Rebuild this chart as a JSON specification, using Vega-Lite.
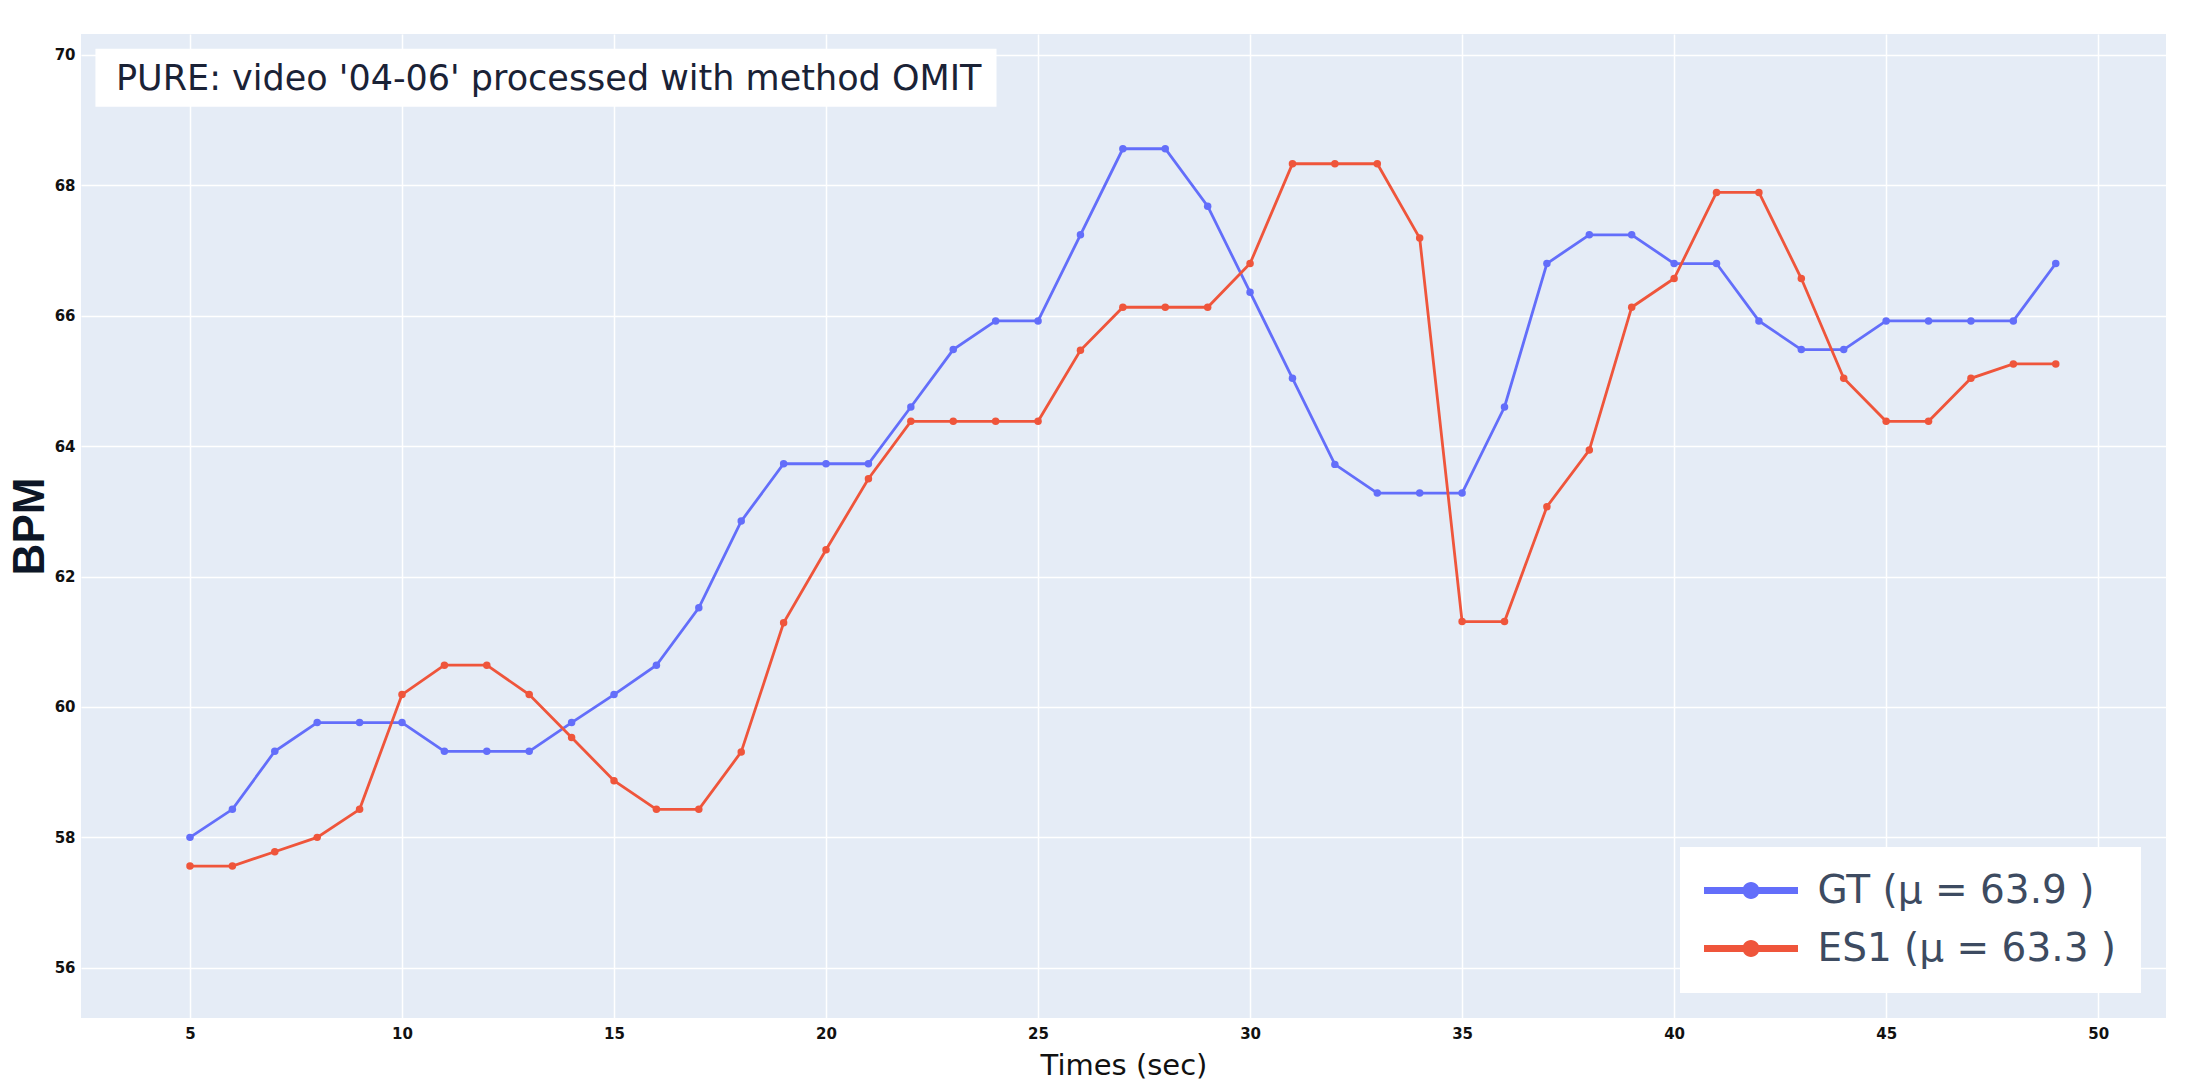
{
  "$schema": "https://vega.github.io/schema/vega-lite/v6.json",
  "width": 2085,
  "height": 984,
  "autosize": {"type": "none"},
  "padding": {"left": 81, "top": 34, "right": 45, "bottom": 72},
  "background": "white",
  "config": {
    "view": {"fill": "#E5ECF6", "stroke": null},
    "axis": {
      "domain": false,
      "ticks": false,
      "gridColor": "white",
      "gridWidth": 1.5,
      "labelFont": "DejaVu Sans",
      "labelFontWeight": "bold",
      "labelFontSize": 15,
      "labelColor": "#111111"
    }
  },
  "datasets": {
    "hr": [
      {"t": 5, "bpm": 58.0, "series": "GT (μ = 63.9 )"},
      {"t": 6, "bpm": 58.43, "series": "GT (μ = 63.9 )"},
      {"t": 7, "bpm": 59.32, "series": "GT (μ = 63.9 )"},
      {"t": 8, "bpm": 59.76, "series": "GT (μ = 63.9 )"},
      {"t": 9, "bpm": 59.76, "series": "GT (μ = 63.9 )"},
      {"t": 10, "bpm": 59.76, "series": "GT (μ = 63.9 )"},
      {"t": 11, "bpm": 59.32, "series": "GT (μ = 63.9 )"},
      {"t": 12, "bpm": 59.32, "series": "GT (μ = 63.9 )"},
      {"t": 13, "bpm": 59.32, "series": "GT (μ = 63.9 )"},
      {"t": 14, "bpm": 59.76, "series": "GT (μ = 63.9 )"},
      {"t": 15, "bpm": 60.19, "series": "GT (μ = 63.9 )"},
      {"t": 16, "bpm": 60.64, "series": "GT (μ = 63.9 )"},
      {"t": 17, "bpm": 61.52, "series": "GT (μ = 63.9 )"},
      {"t": 18, "bpm": 62.85, "series": "GT (μ = 63.9 )"},
      {"t": 19, "bpm": 63.73, "series": "GT (μ = 63.9 )"},
      {"t": 20, "bpm": 63.73, "series": "GT (μ = 63.9 )"},
      {"t": 21, "bpm": 63.73, "series": "GT (μ = 63.9 )"},
      {"t": 22, "bpm": 64.6, "series": "GT (μ = 63.9 )"},
      {"t": 23, "bpm": 65.48, "series": "GT (μ = 63.9 )"},
      {"t": 24, "bpm": 65.92, "series": "GT (μ = 63.9 )"},
      {"t": 25, "bpm": 65.92, "series": "GT (μ = 63.9 )"},
      {"t": 26, "bpm": 67.24, "series": "GT (μ = 63.9 )"},
      {"t": 27, "bpm": 68.56, "series": "GT (μ = 63.9 )"},
      {"t": 28, "bpm": 68.56, "series": "GT (μ = 63.9 )"},
      {"t": 29, "bpm": 67.68, "series": "GT (μ = 63.9 )"},
      {"t": 30, "bpm": 66.36, "series": "GT (μ = 63.9 )"},
      {"t": 31, "bpm": 65.04, "series": "GT (μ = 63.9 )"},
      {"t": 32, "bpm": 63.72, "series": "GT (μ = 63.9 )"},
      {"t": 33, "bpm": 63.28, "series": "GT (μ = 63.9 )"},
      {"t": 34, "bpm": 63.28, "series": "GT (μ = 63.9 )"},
      {"t": 35, "bpm": 63.28, "series": "GT (μ = 63.9 )"},
      {"t": 36, "bpm": 64.6, "series": "GT (μ = 63.9 )"},
      {"t": 37, "bpm": 66.8, "series": "GT (μ = 63.9 )"},
      {"t": 38, "bpm": 67.24, "series": "GT (μ = 63.9 )"},
      {"t": 39, "bpm": 67.24, "series": "GT (μ = 63.9 )"},
      {"t": 40, "bpm": 66.8, "series": "GT (μ = 63.9 )"},
      {"t": 41, "bpm": 66.8, "series": "GT (μ = 63.9 )"},
      {"t": 42, "bpm": 65.92, "series": "GT (μ = 63.9 )"},
      {"t": 43, "bpm": 65.48, "series": "GT (μ = 63.9 )"},
      {"t": 44, "bpm": 65.48, "series": "GT (μ = 63.9 )"},
      {"t": 45, "bpm": 65.92, "series": "GT (μ = 63.9 )"},
      {"t": 46, "bpm": 65.92, "series": "GT (μ = 63.9 )"},
      {"t": 47, "bpm": 65.92, "series": "GT (μ = 63.9 )"},
      {"t": 48, "bpm": 65.92, "series": "GT (μ = 63.9 )"},
      {"t": 49, "bpm": 66.8, "series": "GT (μ = 63.9 )"},
      {"t": 5, "bpm": 57.56, "series": "ES1 (μ = 63.3 )"},
      {"t": 6, "bpm": 57.56, "series": "ES1 (μ = 63.3 )"},
      {"t": 7, "bpm": 57.78, "series": "ES1 (μ = 63.3 )"},
      {"t": 8, "bpm": 58.0, "series": "ES1 (μ = 63.3 )"},
      {"t": 9, "bpm": 58.43, "series": "ES1 (μ = 63.3 )"},
      {"t": 10, "bpm": 60.19, "series": "ES1 (μ = 63.3 )"},
      {"t": 11, "bpm": 60.64, "series": "ES1 (μ = 63.3 )"},
      {"t": 12, "bpm": 60.64, "series": "ES1 (μ = 63.3 )"},
      {"t": 13, "bpm": 60.19, "series": "ES1 (μ = 63.3 )"},
      {"t": 14, "bpm": 59.53, "series": "ES1 (μ = 63.3 )"},
      {"t": 15, "bpm": 58.87, "series": "ES1 (μ = 63.3 )"},
      {"t": 16, "bpm": 58.43, "series": "ES1 (μ = 63.3 )"},
      {"t": 17, "bpm": 58.43, "series": "ES1 (μ = 63.3 )"},
      {"t": 18, "bpm": 59.31, "series": "ES1 (μ = 63.3 )"},
      {"t": 19, "bpm": 61.29, "series": "ES1 (μ = 63.3 )"},
      {"t": 20, "bpm": 62.41, "series": "ES1 (μ = 63.3 )"},
      {"t": 21, "bpm": 63.5, "series": "ES1 (μ = 63.3 )"},
      {"t": 22, "bpm": 64.38, "series": "ES1 (μ = 63.3 )"},
      {"t": 23, "bpm": 64.38, "series": "ES1 (μ = 63.3 )"},
      {"t": 24, "bpm": 64.38, "series": "ES1 (μ = 63.3 )"},
      {"t": 25, "bpm": 64.38, "series": "ES1 (μ = 63.3 )"},
      {"t": 26, "bpm": 65.47, "series": "ES1 (μ = 63.3 )"},
      {"t": 27, "bpm": 66.13, "series": "ES1 (μ = 63.3 )"},
      {"t": 28, "bpm": 66.13, "series": "ES1 (μ = 63.3 )"},
      {"t": 29, "bpm": 66.13, "series": "ES1 (μ = 63.3 )"},
      {"t": 30, "bpm": 66.8, "series": "ES1 (μ = 63.3 )"},
      {"t": 31, "bpm": 68.33, "series": "ES1 (μ = 63.3 )"},
      {"t": 32, "bpm": 68.33, "series": "ES1 (μ = 63.3 )"},
      {"t": 33, "bpm": 68.33, "series": "ES1 (μ = 63.3 )"},
      {"t": 34, "bpm": 67.19, "series": "ES1 (μ = 63.3 )"},
      {"t": 35, "bpm": 61.31, "series": "ES1 (μ = 63.3 )"},
      {"t": 36, "bpm": 61.31, "series": "ES1 (μ = 63.3 )"},
      {"t": 37, "bpm": 63.07, "series": "ES1 (μ = 63.3 )"},
      {"t": 38, "bpm": 63.94, "series": "ES1 (μ = 63.3 )"},
      {"t": 39, "bpm": 66.13, "series": "ES1 (μ = 63.3 )"},
      {"t": 40, "bpm": 66.57, "series": "ES1 (μ = 63.3 )"},
      {"t": 41, "bpm": 67.89, "series": "ES1 (μ = 63.3 )"},
      {"t": 42, "bpm": 67.89, "series": "ES1 (μ = 63.3 )"},
      {"t": 43, "bpm": 66.57, "series": "ES1 (μ = 63.3 )"},
      {"t": 44, "bpm": 65.04, "series": "ES1 (μ = 63.3 )"},
      {"t": 45, "bpm": 64.38, "series": "ES1 (μ = 63.3 )"},
      {"t": 46, "bpm": 64.38, "series": "ES1 (μ = 63.3 )"},
      {"t": 47, "bpm": 65.04, "series": "ES1 (μ = 63.3 )"},
      {"t": 48, "bpm": 65.26, "series": "ES1 (μ = 63.3 )"},
      {"t": 49, "bpm": 65.26, "series": "ES1 (μ = 63.3 )"}
    ]
  },
  "layer": [
    {
      "data": {"name": "hr"},
      "mark": {"type": "line", "strokeWidth": 2.8, "point": {"filled": true, "size": 56, "opacity": 1}},
      "encoding": {
        "x": {
          "field": "t", "type": "quantitative",
          "scale": {"domain": [2.43, 51.6], "nice": false, "zero": false},
          "axis": {
            "values": [5, 10, 15, 20, 25, 30, 35, 40, 45, 50],
            "format": "d",
            "title": "Times (sec)",
            "titleFont": "DejaVu Sans",
            "titleFontSize": 29,
            "titleFontWeight": "normal",
            "titleColor": "#111111",
            "titlePadding": 10,
            "labelPadding": 8
          }
        },
        "y": {
          "field": "bpm", "type": "quantitative",
          "scale": {"domain": [55.23, 70.32], "nice": false, "zero": false},
          "axis": {
            "values": [56, 58, 60, 62, 64, 66, 68, 70],
            "format": "d",
            "title": "BPM",
            "titleFont": "Liberation Sans",
            "titleFontSize": 44,
            "titleFontWeight": "bold",
            "titleColor": "#0d1626",
            "titlePadding": 2,
            "labelPadding": 6
          }
        },
        "color": {
          "field": "series", "type": "nominal",
          "scale": {"domain": ["GT (μ = 63.9 )", "ES1 (μ = 63.3 )"], "range": ["#636EFA", "#EF553B"]},
          "legend": {
            "title": null,
            "orient": "bottom-right",
            "offset": 25,
            "fillColor": "white",
            "padding": 24,
            "rowPadding": 18,
            "labelFont": "DejaVu Sans",
            "labelFontSize": 39,
            "labelFontWeight": "normal",
            "labelColor": "#3d4b61",
            "labelLimit": 500,
            "symbolType": "M-2.41,-0.18H2.41V0.18H-2.41Z M0.436,0 A0.436,0.436 0 1 1 -0.436,0 A0.436,0.436 0 1 1 0.436,0 Z",
            "symbolSize": 1521,
            "symbolStrokeWidth": 0,
            "symbolOffset": 27.5,
            "labelOffset": 47,
            "encode": {
              "symbols": {"update": {"fill": {"scale": "color", "field": "value"}, "fillOpacity": {"value": 1}, "opacity": {"value": 1}, "strokeWidth": {"value": 0}}}
            }
          }
        }
      }
    },
    {
      "data": {"values": [{}]},
      "mark": {"type": "rect", "fill": "white", "stroke": null},
      "encoding": {
        "x": {"datum": 2.77, "type": "quantitative"},
        "x2": {"datum": 24.02},
        "y": {"datum": 70.094, "type": "quantitative"},
        "y2": {"datum": 69.204}
      }
    },
    {
      "data": {"values": [{}]},
      "mark": {"type": "text", "text": "PURE: video '04-06' processed with method OMIT", "font": "DejaVu Sans", "fontSize": 35, "align": "left", "baseline": "alphabetic", "color": "#1a2236"},
      "encoding": {
        "x": {"datum": 3.255, "type": "quantitative"},
        "y": {"datum": 69.465, "type": "quantitative"}
      }
    }
  ]
}
